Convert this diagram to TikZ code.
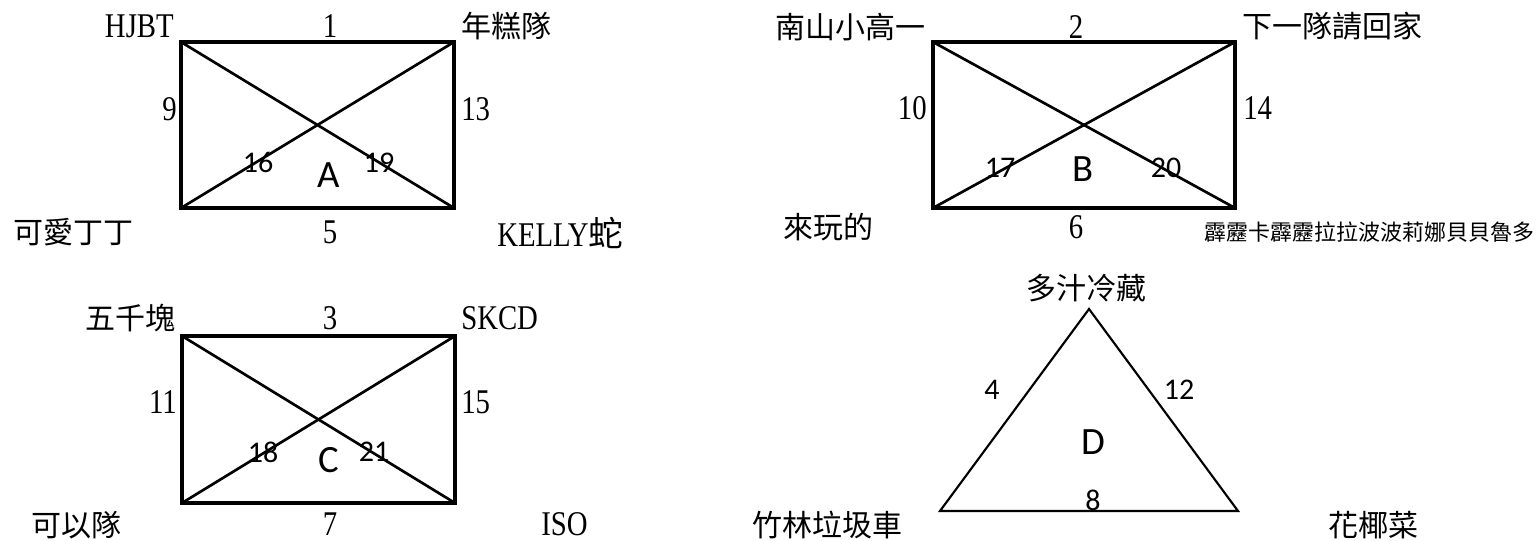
\documentclass[tikz,border=0pt]{standalone}
\usepackage{fontspec}
\setmainfont[FakeStretch=0.83]{Liberation Serif}
\newfontfamily\cjkfont{Noto Sans CJK TC}
\newfontfamily\calfont{Carlito}
\begin{document}
\begin{tikzpicture}[x=0.75pt,y=-0.75pt,
  frame/.style={line width=2.5pt,line cap=rect},
  diag/.style={line width=2pt},
  tri/.style={line width=1.6pt,line join=miter},
  lat/.style={inner sep=0pt,font=\fontsize{26}{26}\selectfont},
  cjk/.style={inner sep=0pt,font=\fontsize{22.5}{24}\selectfont\cjkfont},
  small/.style={inner sep=0pt,font=\fontsize{16.5}{18}\selectfont\cjkfont},
  num/.style={inner sep=0pt,font=\fontsize{22.5}{24}\selectfont\calfont},
  big/.style={inner sep=0pt,font=\fontsize{29}{30}\selectfont\calfont}]
\useasboundingbox[fill=white] (0,0) rectangle (1539,541);

% ---------- A ----------
\coordinate (a1) at (181,42);
\coordinate (a2) at (454,42);
\coordinate (a3) at (454,208);
\coordinate (a4) at (181,208);
\draw[frame] (a1) -- (a2) -- (a3) -- (a4) -- cycle;
\draw[diag] (a1) -- (a3);
\draw[diag] (a4) -- (a2);
\node[lat,anchor=east] (hjbt) at (174,26) {HJBT};
\node[lat] (n1) at (330,26) {1};
\node[cjk,anchor=west] (ngd) at (461,26) {年糕隊};
\node[lat,anchor=east] (n9) at (177,109) {9};
\node[lat,anchor=west] (n13) at (461,109) {13};
\node[num] (n16) at (258,162) {16};
\node[big] (la) at (329,175) {A};
\node[num] (n19) at (379,163) {19};
\node[cjk,anchor=west] (kadd) at (13,232) {可愛丁丁};
\node[lat] (n5) at (330,232) {5};
\node[lat,anchor=west] (kelly) at (497,233) {KELLY{\cjkfont 蛇}};

% ---------- B ----------
\coordinate (b1) at (933,42);
\coordinate (b2) at (1235,42);
\coordinate (b3) at (1235,208);
\coordinate (b4) at (933,208);
\draw[frame] (b1) -- (b2) -- (b3) -- (b4) -- cycle;
\draw[diag] (b1) -- (b3);
\draw[diag] (b4) -- (b2);
\node[cjk,anchor=east] (nsxg) at (926,27) {南山小高一};
\node[lat] (n2) at (1076,27) {2};
\node[cjk,anchor=west] (xydqhj) at (1242,26) {下一隊請回家};
\node[lat,anchor=east] (n10) at (927,108) {10};
\node[lat,anchor=west] (n14) at (1243,108) {14};
\node[num] (n17) at (1000,168) {17};
\node[big] (lb) at (1083,169) {B};
\node[num] (n20) at (1166,168) {20};
\node[cjk,anchor=west] (lwd) at (783,227) {來玩的};
\node[lat] (n6) at (1076,227) {6};
\node[small,anchor=east] (plk) at (1535,232) {霹靂卡霹靂拉拉波波莉娜貝貝魯多};

% ---------- C ----------
\coordinate (c1) at (182,336);
\coordinate (c2) at (455,336);
\coordinate (c3) at (455,503);
\coordinate (c4) at (182,503);
\draw[frame] (c1) -- (c2) -- (c3) -- (c4) -- cycle;
\draw[diag] (c1) -- (c3);
\draw[diag] (c4) -- (c2);
\node[cjk,anchor=east] (wqk) at (176,318) {五千塊};
\node[lat] (n3) at (330,318) {3};
\node[lat,anchor=west] (skcd) at (461,318) {SKCD};
\node[lat,anchor=east] (n11) at (177,402) {11};
\node[lat,anchor=west] (n15) at (461,402) {15};
\node[num] (n18) at (263,452) {18};
\node[big] (lc) at (329,460) {C};
\node[num] (n21) at (374,452) {21};
\node[cjk,anchor=west] (kyd) at (31,525) {可以隊};
\node[lat] (n7) at (330,524) {7};
\node[lat,anchor=west] (iso) at (541,524) {ISO};

% ---------- D ----------
\coordinate (d1) at (1089,309);
\coordinate (d2) at (1238,511);
\coordinate (d3) at (940,511);
\draw[tri] (d1) -- (d2) -- (d3) -- cycle;
\node[cjk] (dzlc) at (1086,288) {多汁冷藏};
\node[num] (n4) at (992,390) {4};
\node[num] (n12) at (1179,390) {12};
\node[big] (ld) at (1093,442) {D};
\node[num] (n8) at (1093,500) {8};
\node[cjk,anchor=west] (zllj) at (752,525) {竹林垃圾車};
\node[cjk,anchor=west] (hyc) at (1328,525) {花椰菜};
\end{tikzpicture}
\end{document}
